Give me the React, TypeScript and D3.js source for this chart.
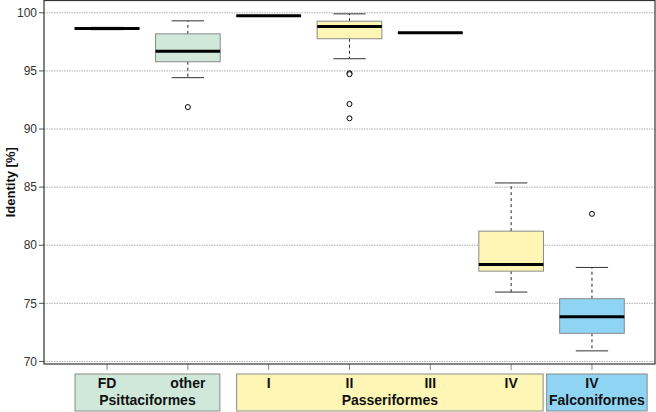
import React from 'react'
import * as d3 from 'd3'

// one entry per box
const labels = ['FD', 'other', 'I', 'II', 'III', 'IV', 'IV']
const groupOf = [0, 0, 1, 1, 1, 1, 2]
const mins = [98.55, 94.42, 99.72, 96.05, 98.26, 75.97, 70.91]
const q1s = [98.6, 95.79, 99.72, 97.77, 98.27, 77.77, 72.42]
const medians = [98.65, 96.7, 99.74, 98.82, 98.28, 78.35, 73.85]
const q3s = [98.7, 98.19, 99.76, 99.28, 98.29, 81.21, 75.4]
const maxs = [98.75, 99.31, 99.76, 99.91, 98.3, 85.36, 78.09]
const outliers = [[], [91.89], [], [94.8, 94.72, 92.15, 90.92], [], [], [82.7]]

const groups = ['Psittaciformes', 'Passeriformes', 'Falconiformes']
const groupFill = ['#cfe8d9', '#fff6b5', '#8fd4f3']

const yTicks = [70, 75, 80, 85, 90, 95, 100]

const left = 44
const right = 655
const top = 0.5
const bottom = 364

const x = d3.scaleLinear().domain([0.22, 7.78]).range([left, right])
const y = d3.scaleLinear().domain([69.78, 101.06]).range([bottom, top])

const font = 'Liberation Sans, Arial, sans-serif'

// label boxes under the axis: span their ticks, at least wide enough for the name
function groupBoxes() {
  const out: { x0: number; x1: number }[] = []
  let prev = -Infinity
  groups.forEach((g, gi) => {
    const idx = groupOf.map((v, i) => (v === gi ? i : -1)).filter(i => i >= 0)
    let x0 = x(idx[0] + 1) - 32
    let x1 = x(idx[idx.length - 1] + 1) + 32
    const minW = 100.5
    if (x1 - x0 < minW) {
      const c = (x0 + x1) / 2
      x0 = c - minW / 2
      x1 = c + minW / 2
    }
    if (x0 < prev + 3.5) {
      const shift = prev + 3.5 - x0
      x0 += shift
      x1 += shift
    }
    out.push({ x0, x1 })
    prev = x1
  })
  return out
}

export default function App() {
  const bw = x(0.8) - x(0)
  const cw = x(0.4) - x(0)
  const boxes = groupBoxes()
  return (
    <svg width={656} height={412} style={{ position: 'absolute', left: 0, top: 0 }} fontFamily={font}>
      <rect width={656} height={412} fill="white" />
      {yTicks.map(t => (
        <g key={t}>
          <line x1={left} x2={right} y1={y(t)} y2={y(t)} stroke="#999" strokeDasharray="1.5,1" strokeWidth={0.8} />
          <line x1={left - 5} x2={left} y1={y(t)} y2={y(t)} stroke="#555" />
          <text x={left - 7} y={y(t)} dy="0.35em" textAnchor="end" fontSize={12} fill="#333">
            {t}
          </text>
        </g>
      ))}
      <text
        transform={`translate(15,${(top + bottom) / 2}) rotate(-90)`}
        textAnchor="middle"
        fontSize={13}
        fontWeight="bold"
        fill="#111"
      >
        Identity [%]
      </text>
      {labels.map((l, i) => {
        const cx = x(i + 1)
        const f = groupFill[groupOf[i]]
        return (
          <g key={i}>
            <line x1={cx} x2={cx} y1={y(q3s[i])} y2={y(maxs[i])} stroke="#222" strokeDasharray="3,3" />
            <line x1={cx} x2={cx} y1={y(q1s[i])} y2={y(mins[i])} stroke="#222" strokeDasharray="3,3" />
            <line x1={cx - cw / 2} x2={cx + cw / 2} y1={y(maxs[i])} y2={y(maxs[i])} stroke="#333" />
            <line x1={cx - cw / 2} x2={cx + cw / 2} y1={y(mins[i])} y2={y(mins[i])} stroke="#333" />
            <rect
              x={cx - bw / 2}
              width={bw}
              y={y(q3s[i])}
              height={y(q1s[i]) - y(q3s[i])}
              fill={f}
              stroke="#8a8a8a"
            />
            <line x1={cx - bw / 2} x2={cx + bw / 2} y1={y(medians[i])} y2={y(medians[i])} stroke="#000" strokeWidth={3} />
            {outliers[i].map((o, j) => (
              <circle key={j} cx={cx} cy={y(o)} r={2.5} fill="white" stroke="#000" strokeWidth={1} />
            ))}
            <line x1={cx} x2={cx} y1={bottom} y2={bottom + 6} stroke="#888" />
          </g>
        )
      })}
      <rect x={left} y={top} width={right - left} height={bottom - top} fill="none" stroke="#333" strokeWidth={1.2} />
      {groups.map((g, gi) => {
        const { x0, x1 } = boxes[gi]
        return (
          <g key={g}>
            <rect x={x0} y={374} width={x1 - x0} height={37} fill={groupFill[gi]} stroke="#8a8a8a" />
            <text x={(x0 + x1) / 2} y={405} textAnchor="middle" fontSize={14} fontWeight="bold" fill="#111">
              {g}
            </text>
          </g>
        )
      })}
      {labels.map((l, i) => (
        <text key={i} x={x(i + 1)} y={387.5} textAnchor="middle" fontSize={14} fontWeight="bold" fill="#111">
          {l}
        </text>
      ))}
    </svg>
  )
}
